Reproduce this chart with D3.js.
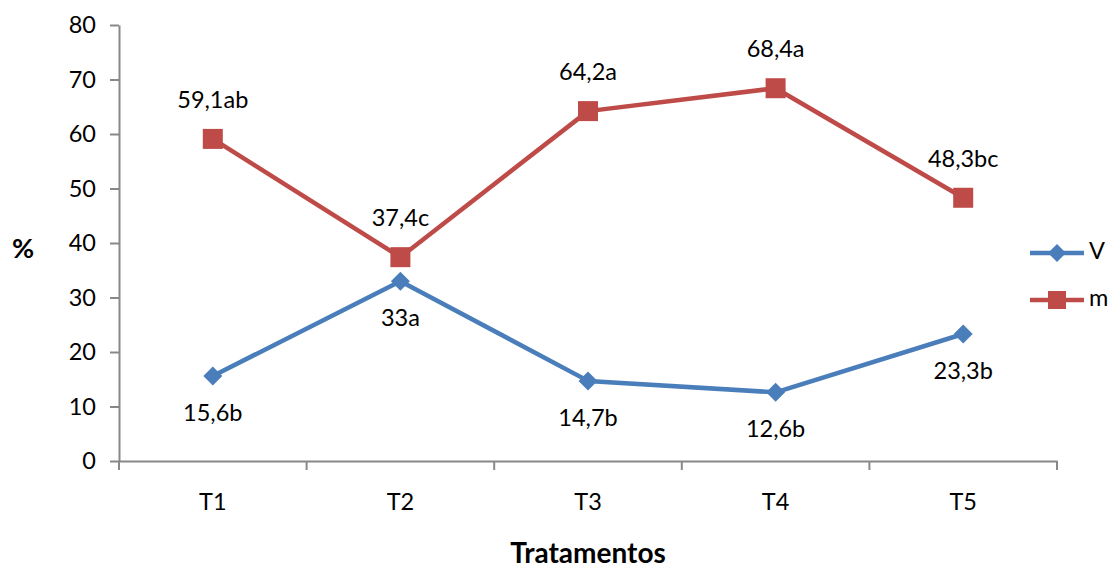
<!DOCTYPE html>
<html>
<head>
<meta charset="utf-8">
<script src="https://cdn.jsdelivr.net/npm/d3@7"></script>
<style>
  html, body { margin: 0; padding: 0; background: #fff; }
  svg { display: block; font-family: Lato, "Open Sans", sans-serif; }
</style>
</head>
<body>
<svg id="chart" width="1110" height="569"></svg>
<script>
const categories = ["T1", "T2", "T3", "T4", "T5"];
const valuesV = [15.6, 33, 14.7, 12.6, 23.3];
const valuesM = [59.1, 37.4, 64.2, 68.4, 48.3];
const labelsV = ["15,6b", "33a", "14,7b", "12,6b", "23,3b"];
const labelsM = ["59,1ab", "37,4c", "64,2a", "68,4a", "48,3bc"];
const yTicks = [0, 10, 20, 30, 40, 50, 60, 70, 80];
const seriesNames = ["V", "m"];

(function () {
const svg = d3.select("#chart");
const mLeft = 119, mRight = 1057, mTop = 25, mBottom = 461;
const blue = "#4A7EBB", red = "#BE4B48", axisColor = "#888888";

const x = d3.scaleBand().domain(categories).range([mLeft, mRight]).padding(0);
const y = d3.scaleLinear().domain([0, 80]).range([mBottom, mTop]);
const cx = d => x(d) + x.bandwidth() / 2;

// Y axis
const yAxis = svg.append("g").attr("transform", `translate(${mLeft},0)`)
  .call(d3.axisLeft(y).tickValues(yTicks).tickSize(9).tickSizeOuter(0).tickPadding(14));
yAxis.select(".domain").attr("stroke", axisColor).attr("stroke-width", 2);
yAxis.selectAll(".tick line").attr("stroke", axisColor).attr("stroke-width", 2);
yAxis.selectAll("text").attr("font-size", 23.5).attr("fill", "#000").attr("font-family", "Lato");

// X axis
const xAxis = svg.append("g").attr("transform", `translate(0,${mBottom})`)
  .call(d3.axisBottom(x).tickSize(0).tickSizeOuter(0).tickPadding(32));
xAxis.select(".domain").attr("stroke", axisColor).attr("stroke-width", 2);
xAxis.selectAll("text").attr("font-size", 23.5).attr("fill", "#000").attr("font-family", "Lato");
// category boundary ticks
const bounds = categories.map(c => x(c)).concat([mRight]);
svg.append("g").selectAll("line").data(bounds).join("line")
  .attr("x1", d => d).attr("x2", d => d)
  .attr("y1", mBottom).attr("y2", mBottom + 9)
  .attr("stroke", axisColor).attr("stroke-width", 2);

// Lines
const line = d3.line().x((d, i) => cx(categories[i])).y(d => y(d));
svg.append("path").datum(valuesV).attr("d", line)
  .attr("fill", "none").attr("stroke", blue).attr("stroke-width", 4.5).attr("stroke-linejoin", "round");
svg.append("path").datum(valuesM).attr("d", line)
  .attr("fill", "none").attr("stroke", red).attr("stroke-width", 4.5).attr("stroke-linejoin", "round");

function diamondPath(s) {
  return `M0,${-s}L${s},0L0,${s}L${-s},0Z`;
}
// Markers
svg.append("g").selectAll("path").data(valuesV).join("path")
  .attr("d", diamondPath(9.5))
  .attr("transform", (d, i) => `translate(${cx(categories[i])},${y(d)})`)
  .attr("fill", blue);
svg.append("g").selectAll("rect").data(valuesM).join("rect")
  .attr("x", (d, i) => cx(categories[i]) - 10).attr("y", d => y(d) - 10)
  .attr("width", 20).attr("height", 20).attr("fill", red);

// Data labels
svg.append("g").selectAll("text").data(valuesV).join("text")
  .attr("x", (d, i) => cx(categories[i])).attr("y", d => y(d) + 39)
  .attr("text-anchor", "middle").attr("dominant-baseline", "middle")
  .attr("font-size", 23.5).attr("fill", "#000")
  .text((d, i) => labelsV[i]);
svg.append("g").selectAll("text").data(valuesM).join("text")
  .attr("x", (d, i) => cx(categories[i])).attr("y", d => y(d) - 37)
  .attr("text-anchor", "middle").attr("dominant-baseline", "middle")
  .attr("font-size", 23.5).attr("fill", "#000")
  .text((d, i) => labelsM[i]);

// Axis titles
svg.append("text").attr("x", 23).attr("y", 251)
  .attr("text-anchor", "middle").attr("dominant-baseline", "middle")
  .attr("font-size", 27).attr("font-weight", "bold").text("%");
svg.append("text").attr("x", 588).attr("y", 563)
  .attr("text-anchor", "middle")
  .attr("font-size", 28).attr("font-weight", "bold").text("Tratamentos");

// Legend
const legend = svg.append("g");
const legY = [253, 300];
const legColors = [blue, red];
seriesNames.forEach((name, i) => {
  legend.append("line").attr("x1", 1030).attr("x2", 1084)
    .attr("y1", legY[i]).attr("y2", legY[i])
    .attr("stroke", legColors[i]).attr("stroke-width", 4.5);
  if (i === 0) {
    legend.append("path").attr("d", diamondPath(9))
      .attr("transform", `translate(1057,${legY[i]})`).attr("fill", blue);
  } else {
    legend.append("rect").attr("x", 1048).attr("y", legY[i] - 9)
      .attr("width", 18).attr("height", 18).attr("fill", red);
  }
  legend.append("text").attr("x", 1089).attr("y", legY[i])
    .attr("dominant-baseline", "middle").attr("font-size", 23.5).text(name);
});
})();
</script>
</body>
</html>
